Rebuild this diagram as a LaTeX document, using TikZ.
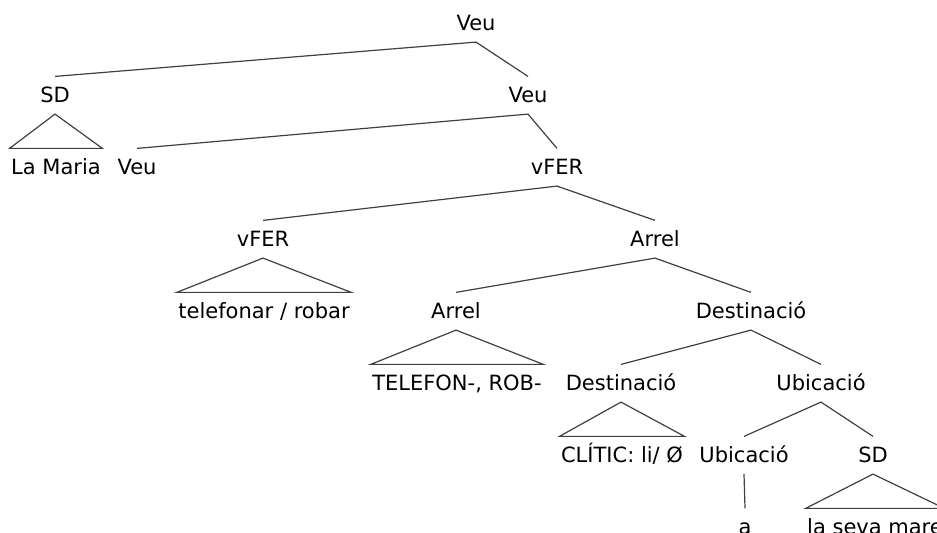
\documentclass[tikz,border=0pt]{standalone}
\usepackage{fontspec}
\setmainfont{DejaVu Sans}
\usepackage{tikz}
\usetikzlibrary{positioning, calc}

\begin{document}
\begin{tikzpicture}[x=0.5pt, y=-0.5pt, line width=0.6pt]
				\tikzset{cat/.style={anchor=base, inner xsep=0.5pt, inner ysep=5pt, text height=7.75pt, text depth=0.5pt, font=\fontsize{10.5}{12}\selectfont}}
				\tikzset{branch/.style={draw=black!75}}
				\tikzset{roof/.style={draw=black!75, line join=miter}}

				\useasboundingbox (0,0) rectangle (937,533);
				\clip (0,0) rectangle (937,533);

				% categories
				\node (veuA) [cat] at (476, 30.5) {Veu};
				\node (sdA) [cat] at (55, 102.5) {SD};
				\node (veuB) [cat] at (528, 102.5) {Veu};
				\node (veuC) [cat] at (137, 174.5) {Veu};
				\node (ferA) [cat] at (557, 174.5) {vFER};
				\node (ferB) [cat] at (263, 246.5) {vFER};
				\node (arrelA) [cat] at (655, 246.5) {Arrel};
				\node (arrelB) [cat] at (456, 318.5) {Arrel};
				\node (destA) [cat] at (751, 318.5) {Destinació};
				\node (destB) [cat] at (621, 390.5) {Destinació};
				\node (ubicA) [cat] at (821, 390.5) {Ubicació};
				\node (ubicB) [cat] at (744, 462.5) {Ubicació};
				\node (sdB) [cat] at (873, 462.5) {SD};

				% leaves
				\node (maria) [cat] at (56, 174.5) {La Maria};
				\node (verbs) [cat] at (264, 318.5) {telefonar / robar};
				\node (roots) [cat] at (457, 390.5) {TELEFON-, ROB-};
				\node (clitic) [cat] at (622, 462.5) {CLÍTIC: li/ Ø};
				\node (prep) [cat] at (745, 534.5) {a};
				\node (mare) [cat] at (875, 534.5) {la seva mare};

				\draw [branch] (sdA.north) -- (veuA.south) -- (veuB.north);
				\draw [branch] (veuC.north) -- (veuB.south) -- (ferA.north);
				\draw [branch] (ferB.north) -- (ferA.south) -- (arrelA.north);
				\draw [branch] (arrelB.north) -- (arrelA.south) -- (destA.north);
				\draw [branch] (destB.north) -- (destA.south) -- (ubicA.north);
				\draw [branch] (ubicB.north) -- (ubicA.south) -- (sdB.north);
				\draw [branch] (ubicB.south) -- (prep.north);

				% roofs
				\draw [roof] (sdA.south) -- (maria.north west) -- (maria.north east) -- cycle;
				\draw [roof] (ferB.south) -- (verbs.north west) -- (verbs.north east) -- cycle;
				\draw [roof] (arrelB.south) -- (roots.north west) -- (roots.north east) -- cycle;
				\draw [roof] (destB.south) -- (clitic.north west) -- (clitic.north east) -- cycle;
				\draw [roof] (sdB.south) -- (mare.north west) -- (mare.north east) -- cycle;
			\end{tikzpicture}
\end{document}
